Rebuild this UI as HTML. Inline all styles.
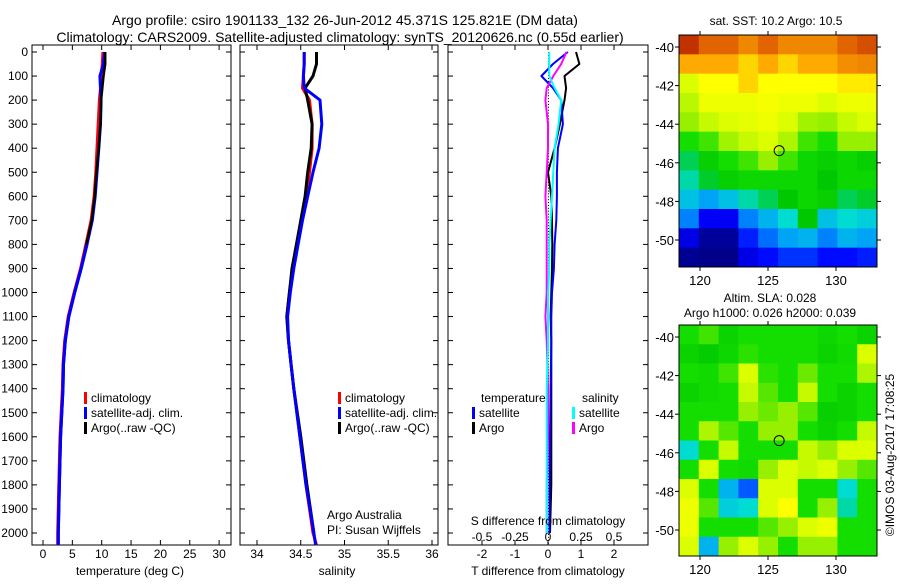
<!DOCTYPE html>
<html><head><meta charset="utf-8"><style>
body{margin:0;background:#fff;}
svg text{font-family:"Liberation Sans",sans-serif;fill:#000;}
</style></head><body>
<svg id="c" width="900" height="580" xmlns="http://www.w3.org/2000/svg"></svg>
<script>
// ---- data ----
const depths=[0,50,100,150,200,300,400,500,600,700,800,900,1000,1100,1200,1300,1400,1600,1800,2000,2050];
const tempClim=[10.2,10.1,9.9,9.8,9.6,9.4,9.2,9.0,8.7,8.2,7.3,6.4,5.3,4.3,3.7,3.4,3.3,2.9,2.7,2.5,2.5];
const tempSat=[10.5,10.3,9.7,9.8,9.9,9.8,9.5,9.2,8.9,8.4,7.5,6.5,5.4,4.4,3.8,3.5,3.4,3.0,2.8,2.6,2.6];
const tempArgo=[10.6,10.6,10.3,10.1,9.9,9.8,9.5,9.1,8.8,8.3,7.4,6.5,5.4,4.4,3.8,3.5,3.4,3.0,2.8,2.6];
const salClim=[34.54,34.54,34.53,34.52,34.60,34.63,34.63,34.60,34.56,34.51,34.46,34.41,34.37,34.34,34.36,34.39,34.42,34.49,34.56,34.64,34.68];
const salSat=[34.54,34.54,34.53,34.54,34.72,34.74,34.71,34.64,34.58,34.52,34.47,34.42,34.38,34.35,34.36,34.39,34.42,34.49,34.56,34.65,34.67];
const salArgo=[34.68,34.68,34.64,34.55,34.58,34.63,34.62,34.58,34.55,34.50,34.45,34.40,34.37,34.34,34.36,34.39,34.42,34.50,34.57,34.65];
const diffDepths=[0,50,100,150,200,300,400,500,600,700,800,900,1000,1100,1200,1400,1600,1800,2000];
const dTSat=[0.6,0.15,-0.2,0.15,0.4,0.45,0.3,0.27,0.27,0.25,0.2,0.18,0.12,0.1,0.1,0.08,0.06,0.05,0.05];
const dTArgo=[0.85,0.95,0.5,0.55,0.5,0.36,0.2,0.0,0.1,0.12,0.13,0.12,0.1,0.08,0.1,0.1,0.1,0.1,0.06];
const dSSat=[0.01,0.01,0.01,0.05,0.1,0.08,0.05,0.04,0.03,0.02,0.01,0.01,0.0,0.0,0.0,-0.01,-0.01,-0.01,-0.01];
const dSArgo=[0.14,0.1,0.04,-0.01,-0.02,0.0,0.0,-0.01,-0.02,-0.01,-0.01,-0.01,-0.01,-0.02,-0.01,0.0,0.0,-0.01,-0.01];
const depthTicks=[0,100,200,300,400,500,600,700,800,900,1000,1100,1200,1300,1400,1500,1600,1700,1800,1900,2000];
const tempTicks=[0,5,10,15,20,25,30];
const salTicks=[34,34.5,35,35.5,36];
const salTickLabels=["34","34.5","35","35.5","36"];
const dTTicks=[-2,-1,0,1,2];
const dSTicks=[-0.5,-0.25,0,0.25,0.5];
const dSTickLabels=["-0.5","-0.25","0","0.25","0.5"];
const latTicks=[-40,-42,-44,-46,-48,-50];
const lonTicks=[120,125,130];
const sstGrid=[
[9.5,9,9,8.5,9,8.5,8.5,8.5,9,9.2],
[8,8,8,7.6,8,7.6,8,8,8.4,8.5],
[6.8,7.2,7.2,7.6,7.2,7.2,7.2,7.2,7.4,7.4],
[6.5,7,7,7,7.1,7,7,6.8,7,7],
[6.2,6.6,6.8,6.9,7,6.8,6.3,6.2,6.6,6.8],
[5.6,5.8,6.3,6.6,6.8,6.4,5.8,5.6,6.2,6.2],
[4.6,5.2,5.6,5.8,6.2,5.8,5.4,5.2,5.4,5.2],
[4.2,4.8,5.2,5.4,5.4,5.4,5.4,5,5.4,5.4],
[3.6,3.2,3.6,4.2,4.6,5,5.4,5.2,4.6,4.8],
[2.8,1.4,1.4,2.8,3.4,4,5,3.6,4,3.8],
[1.2,0.3,0.3,1.8,2.6,3.2,3.4,2.8,3.4,3.2],
[0.2,0.1,0.1,1.2,1.6,2,2,1.6,1.6,1.8]];
const slaGrid=[
[5.6,5.8,5.3,5.6,5.6,5.6,5.6,5.4,5.6,5.3],
[5.3,5.1,5.4,5.7,5.6,5.6,5.6,5.3,5.5,6.8],
[5.6,5.5,5.8,6.8,5.7,5.6,6.0,5.6,5.6,6.4],
[5.3,5.5,5.6,6.6,5.9,5.6,6.6,5.6,5.3,5.6],
[5.6,5.6,5.6,6.2,6.0,6.2,5.9,5.2,5.3,5.6],
[5.6,6.4,5.9,5.6,6.2,6.2,5.6,5.3,5.6,6.6],
[4.0,5.6,6.6,5.6,5.6,5.6,6.6,6.2,6.8,6.8],
[5.6,6.8,5.6,5.5,6.2,6.8,6.6,6.8,6.2,5.9],
[6.8,5.6,3.4,2.4,6.8,6.8,5.6,5.6,4.0,5.6],
[7.0,5.9,3.8,4.0,6.8,7.2,5.6,6.2,4.2,5.6],
[7.0,5.6,5.6,5.6,5.9,6.2,6.8,7.0,5.6,5.6],
[6.8,3.4,6.2,6.8,6.2,5.6,6.2,6.2,5.6,5.6]];
const argoLon=125.82, argoLat=-45.37;

// ---- helpers ----
const S=document.getElementById('c');const NS='http://www.w3.org/2000/svg';
function mk(t,a,p){const e=document.createElementNS(NS,t);for(const k in a)e.setAttribute(k,a[k]);(p||S).appendChild(e);return e;}
function txt(x,y,s,anchor,size){const e=mk('text',{x:x,y:y,'text-anchor':anchor||'middle','font-size':size||12});e.textContent=s;return e;}
const yD=d=>52+d*0.2405;
const PT={l:32,r:231},PS={l:240,r:438},PD={l:448,r:648};
const TOPY=45,BOTY=545;
const xT=v=>43+v*5.87, xS=v=>257+(v-34)*87.5, xdT=v=>548+v*33, xdS=v=>548+v*132;

function panel(P,name){
 const r=mk('rect',{x:P.l,y:TOPY,width:P.r-P.l,height:BOTY-TOPY,fill:'none',stroke:'#000','stroke-width':1});
 
 
 depthTicks.forEach(d=>{mk('line',{x1:P.l,x2:P.l+5,y1:yD(d),y2:yD(d),stroke:'#000'});mk('line',{x1:P.r,x2:P.r-5,y1:yD(d),y2:yD(d),stroke:'#000'});});
}
function xticks(P,vals,fx,labels,ly){
 vals.forEach((v,i)=>{const x=fx(v);
  mk('line',{x1:x,x2:x,y1:BOTY,y2:BOTY-5,stroke:'#000'});
  mk('line',{x1:x,x2:x,y1:TOPY,y2:TOPY+5,stroke:'#000'});
  if(labels){const t=txt(x,ly,labels[i]);
   
   }
 });
}
function line(xs,fx,ds,col,w,name){
 const pts=xs.map((v,i)=>fx(v).toFixed(1)+','+yD(ds[i]).toFixed(1)).join(' ');
 const p=mk('polyline',{points:pts,fill:'none',stroke:col,'stroke-width':w,'stroke-linejoin':'round'});
 
 
}
function legend(x,y,col,label,name){
 mk('rect',{x:x,y:y-10,width:3,height:12,fill:col});
 const t=txt(x+7,y,label,'start');
 
 
}

// titles
let t=txt(345,25,'Argo profile: csiro 1901133_132 26-Jun-2012 45.371S 125.821E (DM data)','middle',14);


t=txt(340,42,'Climatology: CARS2009. Satellite-adjusted climatology: synTS_20120626.nc (0.55d earlier)','middle',14);



// depth labels
depthTicks.forEach(d=>{const e=txt(28,yD(d)+4,String(d),'end');
 
 });

// panel 1 temperature
panel(PT,'temperature-panel');
xticks(PT,tempTicks,xT,tempTicks.map(String),558);
line(tempClim,xT,depths,'#f00',3,'temp-climatology-line');
line(tempSat,xT,depths,'#00f',3,'temp-satellite-line');
line(tempArgo,xT,depths.slice(0,tempArgo.length),'#000',2.5,'temp-argo-line');
line(tempSat.slice(10),xT,depths.slice(10),'#00f',3,'temp-satellite-line-deep');
t=txt(130,575,'temperature (deg C)');
legend(84,402,'#f00','climatology','legend-climatology');
legend(84,417,'#00f','satellite-adj. clim.','legend-satellite');
legend(84,432,'#000','Argo(..raw -QC)','legend-argo');

// panel 2 salinity
panel(PS,'salinity-panel');
xticks(PS,salTicks,xS,salTickLabels,558);
line(salClim,xS,depths,'#f00',3,'sal-climatology-line');
line(salArgo,xS,depths.slice(0,salArgo.length),'#000',3,'sal-argo-line');
line(salSat,xS,depths,'#00f',3,'sal-satellite-line');
t=txt(337,575,'salinity');
legend(338,402,'#f00','climatology','legend-climatology-2');
legend(338,417,'#00f','satellite-adj. clim.','legend-satellite-2');
legend(338,432,'#000','Argo(..raw -QC)','legend-argo-2');
txt(327,519,'Argo Australia','start');
txt(327,534,'PI: Susan Wijffels','start');

// panel 3 differences
panel(PD,'difference-panel');
xticks(PD,dTTicks,xdT,dTTicks.map(String),558);
dSTicks.forEach((v,i)=>{const e=txt(xdS(v),541,dSTickLabels[i]);});
for(let d=0;d<=2050;d+=12)mk('rect',{x:548,y:yD(d),width:1,height:1,fill:'#000'});
line(dTArgo,xdT,diffDepths,'#000',2,'tdiff-argo-line');
line(dTSat,xdT,diffDepths,'#00f',2,'tdiff-satellite-line');
line(dSArgo,xdS,diffDepths,'#f0f',2,'sdiff-argo-line');
line(dSSat,xdS,diffDepths,'#0ff',2,'sdiff-satellite-line');
txt(481,402,'temperature','start');txt(582,402,'salinity','start');
legend(472,417,'#00f','satellite','legend-tdiff-satellite');
legend(472,432,'#000','Argo','legend-tdiff-argo');
legend(572,417,'#0ff','satellite','legend-sdiff-satellite');
legend(572,432,'#f0f','Argo','legend-sdiff-argo');
t=txt(548,525,'S difference from climatology');
t=txt(548,575,'T difference from climatology');

// colormap
const stops=[[0,[0,0,130]],[1.5,[0,0,255]],[3,[0,150,255]],[4,[0,220,210]],[5,[0,200,0]],[5.6,[20,222,0]],[6.2,[150,240,0]],[6.8,[220,255,0]],[7.2,[255,255,0]],[8,[255,170,0]],[9,[225,100,0]],[10,[160,0,0]]];
function cmap(v){for(let i=1;i<stops.length;i++){if(v<=stops[i][0]){const a=stops[i-1],b=stops[i],f=(v-a[0])/(b[0]-a[0]);return 'rgb('+a[1].map((c,k)=>Math.round(c+(b[1][k]-c)*f)).join(',')+')';}}return 'rgb(160,0,0)';}

function drawMap(grid,M,name,cellName){
 const g=mk('g',{});
 const rows=grid.length,cols=grid[0].length,cw=(M.r-M.l)/cols,ch=(M.b-M.t)/rows;
 grid.forEach((row,i)=>row.forEach((v,j)=>{const c=mk('rect',{x:M.l+j*cw,y:M.t+i*ch,width:cw+0.5,height:ch+0.5,fill:cmap(v)},g);
  
  }));
 mk('rect',{x:M.l,y:M.t,width:M.r-M.l,height:M.b-M.t,fill:'none',stroke:'#000'});
 const lx=v=>700+(v-120)*13.6;
 const ly=v=>M.y40+(-40-v)*M.sy;
 latTicks.forEach(v=>{mk('line',{x1:M.l,x2:M.l-4,y1:ly(v),y2:ly(v),stroke:'#000'});mk('line',{x1:M.r,x2:M.r+4,y1:ly(v),y2:ly(v),stroke:'#000'});
  const e=txt(M.l-5,ly(v)+5,String(v),'end',13);});
 lonTicks.forEach(v=>{mk('line',{x1:lx(v),x2:lx(v),y1:M.b,y2:M.b+4,stroke:'#000'});mk('line',{x1:lx(v),x2:lx(v),y1:M.t,y2:M.t-4,stroke:'#000'});
  const e=txt(lx(v),M.b+18,String(v),'middle',13);});
 const c=mk('circle',{cx:lx(argoLon),cy:ly(argoLat),r:5,fill:'none',stroke:'#000'});
 
 
}
drawMap(sstGrid,{l:679,r:877,t:35,b:267,y40:47,sy:19.3},'sst-map','sst-cell');
drawMap(slaGrid,{l:679,r:877,t:325,b:556,y40:337,sy:19.3},'sla-map','sla-cell');
t=txt(776,25,'sat. SST: 10.2 Argo: 10.5');
t=txt(770,302,'Altim. SLA: 0.028');
txt(770,317,'Argo h1000: 0.026 h2000: 0.039');
t=mk('text',{x:0,y:0,'text-anchor':'middle','font-size':12,transform:'translate(894,455) rotate(-90)'});
t.textContent='©IMOS 03-Aug-2017 17:08:25';


</script>
</body></html>
